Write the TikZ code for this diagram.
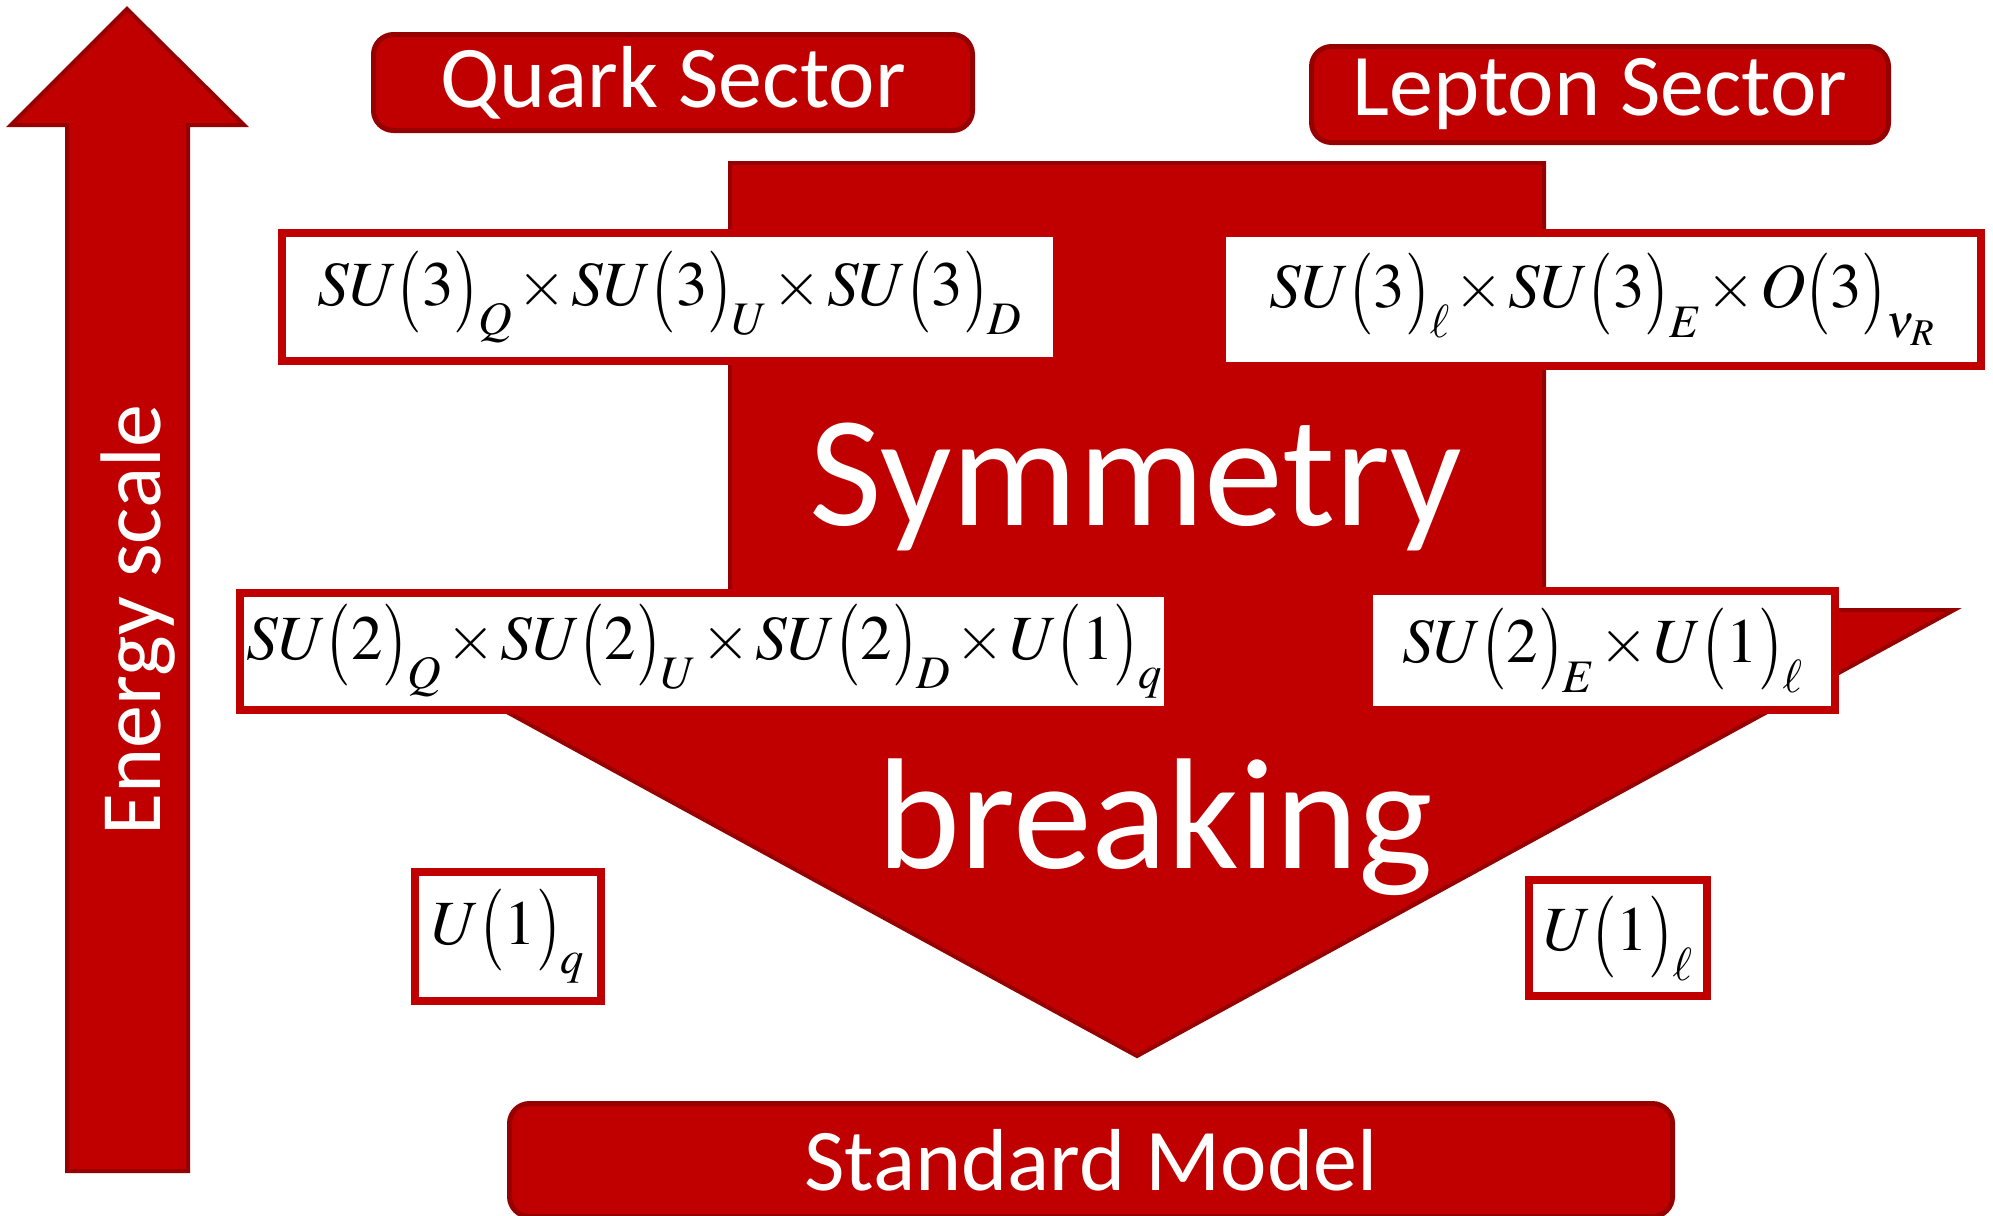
\documentclass[tikz,border=0pt]{standalone}
\usepackage{amsmath}
\usepackage{mathptmx}
\usepackage[no-math]{fontspec}
\setmainfont{Carlito}
\usepackage{tikz}
\definecolor{mainc}{HTML}{C00000}
\definecolor{deepc}{HTML}{960000}
\newcommand{\grpfont}{\fontsize{31.5}{40}\selectfont\medmuskip 1.5mu\scriptspace 0pt\relax}
\tikzset{
  lbl/.style={draw=deepc,line width=2.5pt,rounded corners=10pt,fill=mainc,text=white,font=\fontsize{44}{50}\selectfont,inner sep=0pt},
  grp/.style={draw=mainc,line width=4pt,fill=white,inner sep=0pt,font=\grpfont},
  big/.style={fill=mainc,draw=deepc,line width=2pt,line join=miter},
  word/.style={text=white,anchor=base,inner sep=0pt}
}
\newcommand{\lp}{\mathopen{\raisebox{-0.11em}{\scalebox{1}[1.3]{$($}}}}
\newcommand{\rp}{\mathclose{\raisebox{-0.11em}{\scalebox{1}[1.3]{$)$}}}}
\newcommand{\gp}[1]{\lp#1\rp}

\begin{document}
\begin{tikzpicture}[x=0.5pt,y=-0.5pt]
\useasboundingbox (0,0) rectangle (1993,1216);
\clip (0,0) rectangle (1993,1216);
\draw[big] (67,1171)--(67,125)--(11,125)--(127,9)--(244,125)--(188,125)--(188,1171)--cycle;
\node[word,rotate=90,font=\fontsize{43}{48}\selectfont] (escale) at (160,620) {Energy scale};
\draw[big] (730,163)--(1544,163)--(1544,610)--(1954,610)--(1137,1056)--(320,610)--(730,610)--cycle;
\node[word,font=\fontsize{79}{90}\selectfont] (symm) at (1136,525) {Symmetry};
\node[word,font=\fontsize{79}{90}\selectfont] (brk) at (1155,868) {breaking};
\node[lbl,minimum width=299.5pt,minimum height=48pt] (quark) at (673,82.5) {Quark Sector};
\node[lbl,minimum width=288.5pt,minimum height=48pt] (lepton) at (1600,94.5) {Lepton Sector};
\node[lbl,minimum width=581.5pt,minimum height=56.5pt] (sm) at (1091,1160) {Standard Model};
\node[grp,minimum width=387.5pt,minimum height=64pt] (q3) at (669.5,297)
  {$SU\gp{3}_Q\times SU\gp{3}_U\times SU\gp{3}_D$};
\node[grp,minimum width=379.5pt,minimum height=66.5pt] (l3) at (1601.5,299.5)
  {$SU\gp{3}_\ell\times SU\gp{3}_E\times O\gp{3}_{\nu_R}$};
\node[grp,minimum width=464pt,minimum height=58.5pt] (q2) at (704,651.5)
  {$SU\gp{2}_Q\times SU\gp{2}_U\times SU\gp{2}_D\times U\gp{1}_q$};
\node[grp,minimum width=233pt,minimum height=59.5pt] (l2) at (1602,650.5)
  {$SU\gp{2}_E\times U\gp{1}_\ell$};
\node[grp,minimum width=93pt,minimum height=64.5pt] (u1q) at (508,936.5) {$U\gp{1}_q$};
\node[grp,minimum width=89pt,minimum height=58pt] (u1l) at (1618,938) {$U\gp{1}_\ell$};
\end{tikzpicture}
\end{document}
